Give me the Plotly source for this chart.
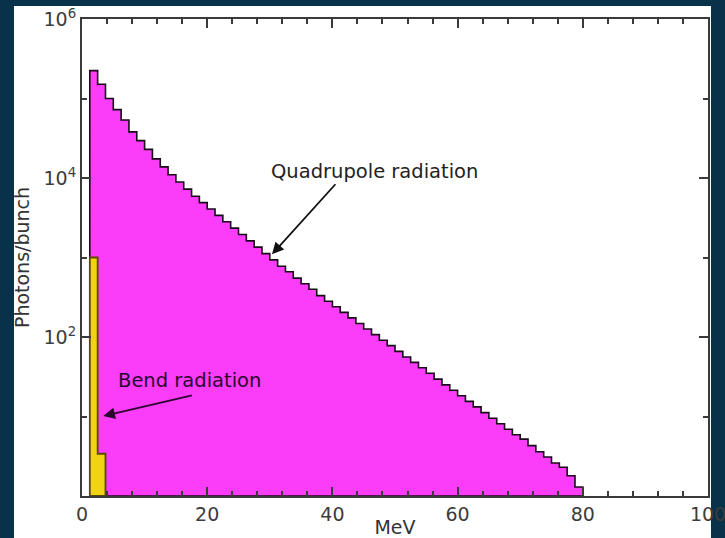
import plotly.graph_objects as go

# ---- data ----
bin_width = 1.25          # MeV
quad_start = 1.25         # MeV, left edge of first quadrupole bin
quad_counts = [224000, 151000, 100000, 72400, 53700, 38000, 29500, 22900, 17400, 13800,
               11000, 8900, 7240, 5890, 4900, 4070, 3390, 2820, 2340, 1950,
               1620, 1350, 1120, 933, 776, 661, 550, 468, 398, 331,
               282, 240, 204, 174, 148, 126, 107, 91, 78, 66,
               56, 48, 41, 35, 29.5, 25, 21.4, 18.2, 15.5, 13.2,
               11.2, 9.5, 8.1, 6.9, 5.9, 5.2, 4.3, 3.6, 3.1, 2.6,
               2.3, 1.8, 1.3]
bend_start = 1.25
bend_counts = [1000, 3.4]

x_ticks = [0, 20, 40, 60, 80, 100]
y_major = [1e2, 1e4, 1e6]
y_major_text = ["10<sup>2</sup>", "10<sup>4</sup>", "10<sup>6</sup>"]
y_minor = [1e1, 1e3, 1e5]

FONT = "DejaVu Sans"


def step_polygon(start, width, counts, floor=1.0):
    xs, ys = [start], [floor]
    for i, c in enumerate(counts):
        x0 = start + i * width
        x1 = x0 + width
        xs += [x0, x1]
        ys += [c, c]
    xs.append(start + len(counts) * width)
    ys.append(floor)
    xs.append(start)
    ys.append(floor)
    return xs, ys


qx, qy = step_polygon(quad_start, bin_width, quad_counts)
bx, by = step_polygon(bend_start, bin_width, bend_counts)

fig = go.Figure()
fig.add_trace(go.Scatter(x=qx, y=qy, mode="lines", fill="toself",
                         fillcolor="#fb3cf8", line=dict(color="#1a0a1a", width=1.6),
                         hoverinfo="skip", showlegend=False))
fig.add_trace(go.Scatter(x=bx, y=by, mode="lines", fill="toself",
                         fillcolor="#f0d414", line=dict(color="#5a4a00", width=1.8),
                         hoverinfo="skip", showlegend=False))

fig.add_annotation(x=30.35, y=3.04, ax=40.7, ay=3.94, xref="x", yref="y",
                   axref="x", ayref="y", showarrow=True, arrowhead=2,
                   arrowsize=1.3, arrowwidth=1.8, arrowcolor="#111", text="")
fig.add_annotation(x=46.7, y=(496 - 171) / 79.5, xref="x", yref="y",
                   text="Quadrupole radiation", showarrow=False,
                   font=dict(family=FONT, size=19.5, color="#222"))
fig.add_annotation(x=3.4, y=1.006, ax=17.8, ay=1.27, xref="x", yref="y",
                   axref="x", ayref="y", showarrow=True, arrowhead=2,
                   arrowsize=1.3, arrowwidth=1.8, arrowcolor="#2a0830", text="")
fig.add_annotation(x=17.2, y=(496 - 380) / 79.5, xref="x", yref="y",
                   text="Bend radiation", showarrow=False,
                   font=dict(family=FONT, size=19.5, color="#2a0830"))

# white panel behind the chart
L, R, T, B = 82, 708, 19, 496
pw, ph = R - L, B - T
fig.add_shape(type="rect", xref="paper", yref="paper", layer="below",
              x0=(14 - L) / pw, x1=(711 - L) / pw,
              y0=(B - 545) / ph, y1=(B - 6) / ph,
              fillcolor="white", line=dict(width=0))

axis_common = dict(showline=True, linecolor="#3a3a3a", linewidth=2, mirror="allticks",
                   ticks="inside", ticklen=9, tickwidth=2, tickcolor="#3a3a3a",
                   showgrid=False, zeroline=False, ticklabeloverflow="allow",
                   tickfont=dict(family=FONT, size=19, color="#3c3c3c"))

fig.update_xaxes(range=[0, 100], tickmode="array", tickvals=x_ticks,
                 minor=dict(tickmode="linear", tick0=0, dtick=4, ticks="inside",
                            ticklen=5, tickwidth=2, tickcolor="#3a3a3a", showgrid=False),
                 title=dict(text="MeV", font=dict(family=FONT, size=19, color="#333"),
                            standoff=0),
                 **axis_common)
fig.update_yaxes(type="log", range=[0, 6], tickmode="array", tickvals=y_major,
                 ticktext=y_major_text,
                 minor=dict(tickmode="array", tickvals=y_minor, ticks="inside",
                            ticklen=5, tickwidth=2, tickcolor="#3a3a3a", showgrid=False),
                 title=dict(text="Photons/bunch", font=dict(family=FONT, size=19, color="#333"),
                            standoff=9),
                 **axis_common)

fig.update_layout(width=725, height=538,
                  margin=dict(l=L, r=725 - R, t=T, b=538 - B, autoexpand=False),
                  paper_bgcolor="#08314a", plot_bgcolor="white",
                  showlegend=False)

fig.write_html("out.html", config={"displayModeBar": False},
               post_script="document.body.style.margin='0px';document.body.style.overflow='hidden';")
